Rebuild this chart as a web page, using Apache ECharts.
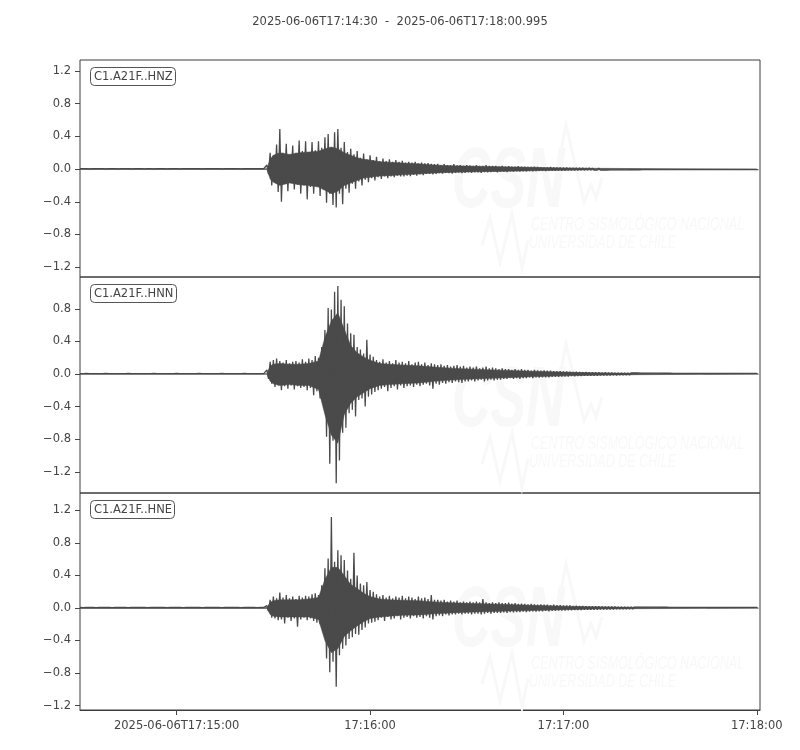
<!DOCTYPE html>
<html>
<head>
<meta charset="utf-8">
<script src="https://cdn.jsdelivr.net/npm/echarts@6/dist/echarts.min.js"></script>
<style>
  html, body { margin: 0; padding: 0; background: #fff; }
  #chart { width: 800px; height: 750px; }
</style>
</head>
<body>
<div id="chart"></div>
<script>
// seconds after 17:14:30; peak / trough per second and the solid body level of each trace
var channels = ['C1.A21F..HNZ', 'C1.A21F..HNN', 'C1.A21F..HNE'];
var xTicks = [30, 90, 150, 210];
var yTicks = [
    [-1.2, -0.8, -0.4, 0, 0.4, 0.8, 1.2],
    [-1.2, -0.8, -0.4, 0, 0.4, 0.8],
    [-1.2, -0.8, -0.4, 0, 0.4, 0.8, 1.2]
];

var zUp = [
    0.005,0.006,0.005,0.004,0.005,0.006,0.005,0.005,0.004,0.005,
    0.005,0.005,0.004,0.005,0.005,0.005,0.004,0.005,0.005,0.005,
    0.004,0.005,0.005,0.004,0.005,0.005,0.005,0.004,0.005,0.005,
    0.005,0.004,0.005,0.006,0.005,0.005,0.006,0.005,0.004,0.005,
    0.005,0.006,0.005,0.005,0.004,0.005,0.005,0.006,0.005,0.005,
    0.004,0.005,0.005,0.005,0.006,0.005,0.005,0.005,0.05,0.2,
    0.17,0.3,0.49,0.2,0.31,0.18,0.29,0.2,0.35,0.22,
    0.34,0.21,0.33,0.23,0.34,0.26,0.39,0.43,0.27,0.45,
    0.49,0.26,0.33,0.21,0.25,0.18,0.22,0.14,0.19,0.12,
    0.17,0.11,0.15,0.1,0.13,0.1,0.12,0.09,0.11,0.09,
    0.1,0.08,0.09,0.08,0.09,0.07,0.08,0.07,0.075,0.065,
    0.06,0.065,0.05,0.06,0.05,0.05,0.06,0.045,0.05,0.04,
    0.05,0.045,0.04,0.05,0.04,0.04,0.048,0.04,0.038,0.04,
    0.03,0.04,0.03,0.035,0.03,0.03,0.035,0.03,0.028,0.025,
    0.025,0.03,0.025,0.024,0.02,0.02,0.025,0.02,0.018,0.02,
    0.018,0.02,0.016,0.015,0.016,0.014,0.015,0.013,0.014,0.013,
    0.012,0.013,0.011,0.012,0.01,0.012,0.01,0.01,0.009,0.01,
    0.009,0.008,0.009,0.008,0.008,0.007,0.008,0.007,0.007,0.007,
    0.006,0.006,0.006,0.006,0.006,0.006,0.006,0.006,0.006,0.006,
    0.006,0.006,0.006,0.006,0.006,0.006,0.006,0.006,0.006,0.006,
    0.006,0.006,0.006,0.006,0.006,0.006,0.006,0.006,0.006,0.006,
    0.006
];
var zLo = [
    -0.005,-0.005,-0.006,-0.005,-0.004,-0.005,-0.005,-0.006,-0.005,-0.005,
    -0.004,-0.005,-0.005,-0.005,-0.006,-0.005,-0.005,-0.004,-0.005,-0.005,
    -0.005,-0.005,-0.004,-0.005,-0.005,-0.006,-0.005,-0.005,-0.005,-0.004,
    -0.005,-0.005,-0.006,-0.005,-0.005,-0.004,-0.005,-0.005,-0.006,-0.005,
    -0.005,-0.004,-0.005,-0.005,-0.005,-0.006,-0.005,-0.005,-0.004,-0.005,
    -0.005,-0.005,-0.006,-0.005,-0.005,-0.005,-0.004,-0.005,-0.06,-0.2,
    -0.15,-0.28,-0.4,-0.18,-0.27,-0.16,-0.25,-0.19,-0.3,-0.2,
    -0.37,-0.22,-0.3,-0.21,-0.33,-0.25,-0.41,-0.3,-0.44,-0.47,
    -0.3,-0.43,-0.24,-0.29,-0.18,-0.24,-0.15,-0.2,-0.13,-0.16,
    -0.11,-0.14,-0.1,-0.12,-0.09,-0.11,-0.09,-0.1,-0.08,-0.09,
    -0.09,-0.08,-0.085,-0.07,-0.08,-0.065,-0.075,-0.06,-0.06,-0.065,
    -0.06,-0.05,-0.055,-0.045,-0.05,-0.055,-0.045,-0.04,-0.05,-0.045,
    -0.04,-0.045,-0.038,-0.04,-0.045,-0.036,-0.04,-0.035,-0.03,-0.038,
    -0.03,-0.03,-0.035,-0.028,-0.03,-0.026,-0.03,-0.025,-0.028,-0.024,
    -0.025,-0.022,-0.02,-0.02,-0.024,-0.02,-0.018,-0.02,-0.017,-0.018,
    -0.018,-0.016,-0.016,-0.015,-0.015,-0.014,-0.014,-0.013,-0.013,-0.012,
    -0.012,-0.012,-0.011,-0.011,-0.01,-0.01,-0.01,-0.009,-0.01,-0.009,
    -0.008,-0.008,-0.008,-0.008,-0.007,-0.007,-0.007,-0.007,-0.007,-0.006,
    -0.006,-0.006,-0.006,-0.006,-0.006,-0.006,-0.006,-0.006,-0.006,-0.006,
    -0.006,-0.006,-0.006,-0.006,-0.006,-0.006,-0.006,-0.006,-0.006,-0.006,
    -0.006,-0.006,-0.006,-0.006,-0.006,-0.006,-0.006,-0.006,-0.006,-0.006,
    -0.006
];

var nUp = [
    0.005,0.005,0.006,0.005,0.004,0.005,0.005,0.005,0.006,0.005,
    0.005,0.004,0.005,0.005,0.005,0.006,0.005,0.005,0.004,0.005,
    0.005,0.005,0.005,0.006,0.005,0.004,0.005,0.005,0.005,0.005,
    0.006,0.005,0.005,0.004,0.005,0.005,0.005,0.006,0.005,0.005,
    0.004,0.005,0.005,0.005,0.006,0.005,0.005,0.004,0.005,0.005,
    0.005,0.006,0.005,0.005,0.004,0.005,0.005,0.005,0.05,0.15,
    0.17,0.19,0.16,0.14,0.17,0.13,0.15,0.16,0.14,0.18,
    0.15,0.19,0.17,0.22,0.2,0.33,0.54,0.81,0.79,1.01,
    1.08,0.91,0.83,0.62,0.5,0.48,0.33,0.3,0.25,0.42,
    0.24,0.21,0.17,0.15,0.18,0.14,0.16,0.13,0.17,0.14,
    0.15,0.13,0.16,0.12,0.14,0.15,0.12,0.14,0.11,0.13,
    0.12,0.11,0.12,0.1,0.11,0.09,0.1,0.11,0.09,0.1,
    0.08,0.09,0.08,0.09,0.07,0.08,0.09,0.07,0.08,0.07,
    0.06,0.07,0.06,0.06,0.05,0.06,0.05,0.06,0.05,0.05,
    0.04,0.05,0.045,0.04,0.045,0.04,0.04,0.035,0.035,0.035,
    0.03,0.03,0.028,0.026,0.028,0.025,0.022,0.025,0.022,0.02,
    0.02,0.02,0.018,0.02,0.016,0.016,0.015,0.015,0.014,0.013,
    0.013,0.012,0.012,0.012,0.011,0.011,0.01,0.011,0.01,0.01,
    0.01,0.009,0.009,0.009,0.008,0.008,0.008,0.008,0.007,0.007,
    0.007,0.007,0.007,0.007,0.006,0.006,0.006,0.006,0.006,0.006,
    0.006,0.006,0.006,0.006,0.006,0.006,0.006,0.006,0.006,0.006,
    0.006
];
var nLo = [
    -0.005,-0.006,-0.005,-0.005,-0.005,-0.004,-0.005,-0.006,-0.005,-0.005,
    -0.005,-0.005,-0.004,-0.005,-0.006,-0.005,-0.005,-0.005,-0.005,-0.004,
    -0.005,-0.006,-0.005,-0.005,-0.005,-0.005,-0.004,-0.005,-0.006,-0.005,
    -0.005,-0.005,-0.004,-0.005,-0.005,-0.006,-0.005,-0.005,-0.005,-0.004,
    -0.005,-0.005,-0.006,-0.005,-0.005,-0.005,-0.004,-0.005,-0.005,-0.006,
    -0.005,-0.005,-0.005,-0.004,-0.005,-0.005,-0.006,-0.005,-0.06,-0.12,
    -0.16,-0.14,-0.2,-0.15,-0.18,-0.14,-0.19,-0.15,-0.17,-0.16,
    -0.2,-0.17,-0.26,-0.21,-0.3,-0.32,-0.77,-1.1,-0.82,-1.34,
    -1.06,-0.72,-0.66,-0.48,-0.44,-0.52,-0.32,-0.3,-0.4,-0.28,
    -0.25,-0.22,-0.2,-0.18,-0.16,-0.21,-0.17,-0.15,-0.19,-0.14,
    -0.17,-0.15,-0.14,-0.16,-0.13,-0.15,-0.13,-0.12,-0.14,-0.18,
    -0.12,-0.13,-0.11,-0.12,-0.1,-0.11,-0.09,-0.1,-0.11,-0.09,
    -0.09,-0.08,-0.09,-0.08,-0.07,-0.09,-0.08,-0.07,-0.08,-0.07,
    -0.07,-0.06,-0.06,-0.05,-0.06,-0.05,-0.06,-0.05,-0.05,-0.04,
    -0.05,-0.04,-0.045,-0.04,-0.04,-0.04,-0.035,-0.035,-0.035,-0.03,
    -0.03,-0.03,-0.026,-0.028,-0.024,-0.025,-0.022,-0.022,-0.02,-0.02,
    -0.02,-0.018,-0.018,-0.018,-0.016,-0.015,-0.016,-0.014,-0.014,-0.013,
    -0.013,-0.012,-0.012,-0.011,-0.011,-0.011,-0.01,-0.01,-0.01,-0.01,
    -0.009,-0.009,-0.009,-0.008,-0.008,-0.008,-0.008,-0.007,-0.007,-0.007,
    -0.007,-0.007,-0.007,-0.006,-0.006,-0.006,-0.006,-0.006,-0.006,-0.006,
    -0.006,-0.006,-0.006,-0.006,-0.006,-0.006,-0.006,-0.006,-0.006,-0.006,
    -0.006
];

var eUp = [
    0.006,0.005,0.006,0.007,0.006,0.005,0.006,0.006,0.007,0.006,
    0.005,0.006,0.006,0.007,0.006,0.005,0.006,0.006,0.006,0.007,
    0.006,0.005,0.006,0.006,0.007,0.006,0.006,0.005,0.006,0.006,
    0.007,0.006,0.005,0.006,0.006,0.006,0.007,0.006,0.005,0.006,
    0.006,0.007,0.006,0.006,0.005,0.006,0.006,0.007,0.006,0.006,
    0.005,0.006,0.007,0.006,0.006,0.005,0.006,0.006,0.03,0.1,
    0.14,0.12,0.19,0.13,0.16,0.12,0.14,0.11,0.15,0.13,
    0.15,0.14,0.17,0.18,0.16,0.28,0.49,0.61,1.12,0.57,
    0.71,0.65,0.59,0.46,0.36,0.68,0.4,0.3,0.28,0.32,
    0.22,0.2,0.17,0.14,0.16,0.13,0.15,0.12,0.14,0.13,
    0.15,0.12,0.14,0.13,0.11,0.14,0.12,0.13,0.11,0.16,
    0.1,0.1,0.09,0.1,0.08,0.09,0.08,0.09,0.07,0.08,
    0.07,0.08,0.07,0.08,0.07,0.11,0.07,0.06,0.07,0.06,
    0.07,0.06,0.06,0.065,0.055,0.06,0.05,0.055,0.05,0.045,
    0.05,0.045,0.04,0.045,0.04,0.04,0.035,0.04,0.035,0.035,
    0.03,0.03,0.03,0.026,0.028,0.024,0.025,0.022,0.022,0.02,
    0.02,0.02,0.018,0.018,0.017,0.016,0.016,0.015,0.014,0.014,
    0.013,0.013,0.012,0.012,0.011,0.011,0.01,0.011,0.01,0.01,
    0.009,0.009,0.009,0.008,0.008,0.008,0.008,0.007,0.007,0.007,
    0.007,0.007,0.007,0.007,0.007,0.006,0.006,0.006,0.006,0.006,
    0.006,0.006,0.006,0.006,0.006,0.006,0.006,0.006,0.006,0.006,
    0.006
];
var eLo = [
    -0.006,-0.006,-0.005,-0.006,-0.007,-0.006,-0.006,-0.005,-0.006,-0.006,
    -0.007,-0.006,-0.005,-0.006,-0.006,-0.006,-0.007,-0.006,-0.005,-0.006,
    -0.006,-0.007,-0.006,-0.006,-0.005,-0.006,-0.006,-0.007,-0.006,-0.005,
    -0.006,-0.006,-0.006,-0.007,-0.006,-0.005,-0.006,-0.006,-0.007,-0.006,
    -0.006,-0.005,-0.006,-0.006,-0.007,-0.006,-0.006,-0.005,-0.006,-0.006,
    -0.007,-0.006,-0.005,-0.006,-0.006,-0.006,-0.007,-0.006,-0.04,-0.12,
    -0.13,-0.15,-0.14,-0.19,-0.12,-0.16,-0.13,-0.23,-0.14,-0.12,
    -0.15,-0.13,-0.16,-0.18,-0.2,-0.3,-0.62,-0.79,-0.66,-0.97,
    -0.58,-0.5,-0.46,-0.38,-0.36,-0.32,-0.33,-0.27,-0.24,-0.19,
    -0.18,-0.17,-0.15,-0.12,-0.16,-0.11,-0.14,-0.13,-0.1,-0.14,
    -0.12,-0.11,-0.13,-0.1,-0.12,-0.11,-0.13,-0.1,-0.12,-0.14,
    -0.1,-0.09,-0.1,-0.08,-0.09,-0.08,-0.08,-0.07,-0.08,-0.07,
    -0.07,-0.08,-0.07,-0.07,-0.08,-0.07,-0.06,-0.07,-0.06,-0.06,
    -0.06,-0.055,-0.06,-0.05,-0.055,-0.05,-0.05,-0.045,-0.05,-0.045,
    -0.04,-0.045,-0.04,-0.04,-0.035,-0.04,-0.035,-0.035,-0.03,-0.03,
    -0.03,-0.028,-0.028,-0.025,-0.025,-0.024,-0.022,-0.022,-0.02,-0.02,
    -0.02,-0.019,-0.018,-0.017,-0.017,-0.016,-0.015,-0.015,-0.014,-0.014,
    -0.013,-0.013,-0.012,-0.012,-0.011,-0.011,-0.011,-0.01,-0.01,-0.01,
    -0.009,-0.009,-0.009,-0.008,-0.008,-0.008,-0.007,-0.008,-0.007,-0.007,
    -0.007,-0.007,-0.007,-0.007,-0.006,-0.006,-0.006,-0.006,-0.006,-0.006,
    -0.006,-0.006,-0.006,-0.006,-0.006,-0.006,-0.006,-0.006,-0.006,-0.006,
    -0.006
];

// solid part of each trace (where the oscillation is too dense to show gaps)
var bodyT = [0, 58, 59, 60, 62, 65, 68, 71, 74, 76, 78, 80, 82, 84, 86, 88, 90, 93, 96, 100, 105, 110, 115, 120, 130, 140, 150, 160, 175, 190, 210];
var zBodyUp = [0.004, 0.004, 0.12, 0.17, 0.2, 0.18, 0.2, 0.21, 0.22, 0.25, 0.27, 0.25, 0.2, 0.17, 0.14, 0.12, 0.11, 0.09, 0.085, 0.075, 0.065, 0.05, 0.042, 0.037, 0.03, 0.022, 0.015, 0.01, 0.006, 0.004, 0.004];
var zBodyLo = [-0.004, -0.004, -0.12, -0.16, -0.2, -0.17, -0.19, -0.2, -0.22, -0.26, -0.3, -0.27, -0.2, -0.17, -0.14, -0.11, -0.1, -0.085, -0.08, -0.07, -0.06, -0.048, -0.04, -0.035, -0.028, -0.02, -0.014, -0.009, -0.006, -0.004, -0.004];
var nBodyUp = [0.004, 0.004, 0.1, 0.12, 0.13, 0.12, 0.12, 0.13, 0.16, 0.45, 0.65, 0.75, 0.55, 0.35, 0.26, 0.21, 0.17, 0.13, 0.12, 0.11, 0.1, 0.085, 0.072, 0.062, 0.047, 0.034, 0.023, 0.014, 0.008, 0.005, 0.004];
var nBodyLo = [-0.004, -0.004, -0.09, -0.12, -0.14, -0.13, -0.14, -0.14, -0.19, -0.5, -0.75, -0.85, -0.5, -0.36, -0.28, -0.23, -0.18, -0.14, -0.13, -0.12, -0.11, -0.09, -0.075, -0.064, -0.048, -0.034, -0.023, -0.014, -0.008, -0.005, -0.004];
var eBodyUp = [0.005, 0.005, 0.07, 0.09, 0.1, 0.1, 0.1, 0.11, 0.13, 0.35, 0.5, 0.5, 0.4, 0.29, 0.24, 0.18, 0.14, 0.11, 0.1, 0.095, 0.09, 0.075, 0.064, 0.057, 0.046, 0.033, 0.022, 0.014, 0.008, 0.005, 0.005];
var eBodyLo = [-0.005, -0.005, -0.08, -0.1, -0.11, -0.11, -0.11, -0.11, -0.14, -0.4, -0.55, -0.5, -0.35, -0.28, -0.22, -0.17, -0.13, -0.11, -0.1, -0.09, -0.085, -0.07, -0.06, -0.052, -0.041, -0.03, -0.02, -0.013, -0.008, -0.005, -0.005];

var startSec = 17 * 3600 + 14 * 60 + 30;   // 17:14:30
var spanSec = 210.995;
var yRanges = [[-1.32, 1.335], [-1.46, 1.19], [-1.255, 1.415]];
var panelTop = [60, 277, 493];
var panelHeight = [217, 216, 217];
var traceColor = '#4a4a4a';
var textColor = '#444';
var font = 'DejaVu Sans';

function pad(n) { return (n < 10 ? '0' : '') + n; }
function clock(v) {
    var s = Math.round(startSec + v);
    return pad(Math.floor(s / 3600)) + ':' + pad(Math.floor(s / 60) % 60) + ':' + pad(s % 60);
}

// peak at the whole second, trough half a second later
function trace(up, lo) {
    var pts = [];
    for (var i = 0; i < up.length; i++) {
        pts.push([i, up[i]]);
        pts.push([i + 0.5, lo[i]]);
    }
    return pts;
}
function pairs(xs, ys) {
    var pts = [];
    for (var i = 0; i < xs.length; i++) pts.push([xs[i], ys[i]]);
    return pts;
}
var ups = [zUp, nUp, eUp];
var los = [zLo, nLo, eLo];
var bodyUps = [zBodyUp, nBodyUp, eBodyUp];
var bodyLos = [zBodyLo, nBodyLo, eBodyLo];

var grids = [], xAxes = [], yAxes = [], series = [], titles = [], graphics = [];

titles.push({
    text: '2025-06-06T17:14:30  -  2025-06-06T17:18:00.995',
    left: 'center', top: 11,
    textStyle: { fontFamily: font, fontSize: 11.5, fontWeight: 'normal', color: textColor }
});

for (var k = 0; k < 3; k++) {
    var last = k === 2;
    grids.push({
        left: 80, top: panelTop[k], width: 680, height: panelHeight[k],
        show: true, borderColor: '#3d3d3d', borderWidth: 1, backgroundColor: 'transparent'
    });
    xAxes.push({
        type: 'value', gridIndex: k, min: 0, max: spanSec, position: 'bottom',
        axisLine: { show: last, onZero: false, lineStyle: { color: '#3d3d3d', width: 1 } },
        splitLine: { show: false },
        axisTick: { show: last, inside: false, customValues: xTicks, length: 5, lineStyle: { color: textColor, width: 1 } },
        axisLabel: {
            show: last, customValues: xTicks, margin: 10,
            fontFamily: font, fontSize: 11.5, color: textColor,
            formatter: function (v) {
                return v === 30 ? '2025-06-06T' + clock(v) : clock(v);
            }
        }
    });
    yAxes.push({
        type: 'value', gridIndex: k, min: yRanges[k][0], max: yRanges[k][1],
        axisLine: { show: false, onZero: false },
        splitLine: { show: false },
        axisTick: { show: true, customValues: yTicks[k], length: 5, lineStyle: { color: textColor, width: 1 } },
        axisLabel: {
            customValues: yTicks[k], margin: 9,
            fontFamily: font, fontSize: 11.5, color: textColor,
            formatter: function (v) { return v.toFixed(1).replace('-', '\u2212'); }
        }
    });
    series.push({
        name: channels[k] + ' body+', type: 'line', xAxisIndex: k, yAxisIndex: k,
        data: pairs(bodyT, bodyUps[k]), showSymbol: false, symbol: 'none', silent: true,
        z: 2, lineStyle: { color: traceColor, width: 0.5 },
        areaStyle: { color: traceColor, opacity: 1 }
    }, {
        name: channels[k] + ' body-', type: 'line', xAxisIndex: k, yAxisIndex: k,
        data: pairs(bodyT, bodyLos[k]), showSymbol: false, symbol: 'none', silent: true,
        z: 2, lineStyle: { color: traceColor, width: 0.5 },
        areaStyle: { color: traceColor, opacity: 1 }
    }, {
        name: channels[k], type: 'line', xAxisIndex: k, yAxisIndex: k,
        data: trace(ups[k], los[k]), showSymbol: false, symbol: 'none', silent: true,
        sampling: null, z: 3,
        lineStyle: { color: traceColor, width: 1.3, join: 'bevel' }
    });
    titles.push({
        text: channels[k], left: 90, top: panelTop[k] + 7,
        padding: [4, 3, 3, 4],
        borderColor: '#555', borderWidth: 1, borderRadius: 4, backgroundColor: '#fff',
        textStyle: { fontFamily: font, fontSize: 11.5, fontWeight: 'normal', color: textColor }
    });

    // faint CSN watermark inside each panel
    var off = [0, 219, 439][k];
    var wm = '#f8f8f8';
    graphics.push(
        { type: 'text', z: 1, x: 452, y: 140 + off, scaleX: 0.62, silent: true,
          style: { text: 'CSN', font: 'italic bold 86px "Liberation Sans"', fill: wm } },
        { type: 'polyline', z: 1, silent: true,
          shape: { points: [[551, 204 + off], [566, 125 + off], [584, 202 + off], [591, 185 + off], [596, 198 + off], [602, 178 + off]] },
          style: { stroke: wm, lineWidth: 3, fill: 'none' } },
        { type: 'polyline', z: 1, silent: true,
          shape: { points: [[482, 245 + off], [490, 218 + off], [500, 262 + off], [512, 214 + off], [522, 268 + off], [528, 240 + off]] },
          style: { stroke: wm, lineWidth: 3, fill: 'none' } },
        { type: 'text', z: 1, x: 531, y: 215 + off, scaleX: 0.66, silent: true,
          style: { text: 'CENTRO SISMOLÓGICO NACIONAL', font: 'italic 19px "Liberation Sans"', fill: wm } },
        { type: 'text', z: 1, x: 529, y: 233 + off, scaleX: 0.66, silent: true,
          style: { text: 'UNIVERSIDAD DE CHILE', font: 'italic 19px "Liberation Sans"', fill: wm } }
    );
}

var chart = echarts.init(document.getElementById('chart'), null, { renderer: 'canvas' });
chart.setOption({
    backgroundColor: '#fff',
    animation: false,
    title: titles,
    grid: grids,
    xAxis: xAxes,
    yAxis: yAxes,
    series: series,
    graphic: graphics
});
window.addEventListener('resize', chart.resize);
</script>
</body>
</html>
